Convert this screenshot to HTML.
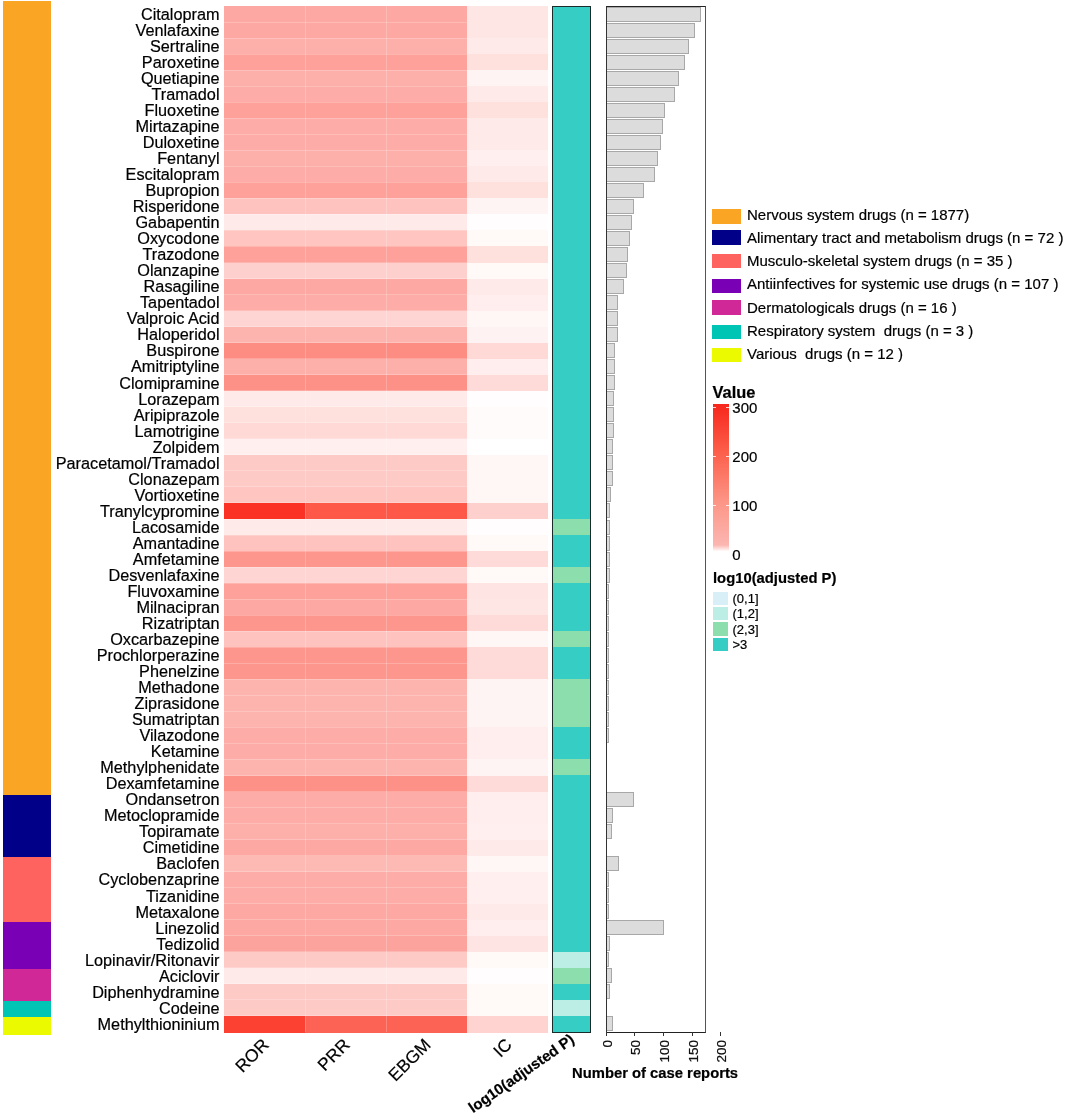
<!DOCTYPE html>
<html><head><meta charset="utf-8"><style>
html,body{margin:0;padding:0;background:#fff;width:1065px;height:1113px;overflow:hidden;position:relative}
body{font-family:"Liberation Sans",sans-serif;color:#000;will-change:transform;-webkit-text-stroke:0.2px #000}
div,span{position:absolute;box-sizing:border-box}
.lab{font-size:16.25px;right:0;white-space:nowrap;line-height:16px;text-align:right}
.cell{}
.lg{font-size:15px;white-space:nowrap;line-height:15px}
</style></head><body>

<div style="left:3px;top:1px;width:48px;height:794px;background:rgb(250,165,35)"></div>
<div style="left:3px;top:795px;width:48px;height:62px;background:rgb(0,0,136)"></div>
<div style="left:3px;top:857px;width:48px;height:65px;background:rgb(255,99,96)"></div>
<div style="left:3px;top:922px;width:48px;height:47px;background:rgb(122,0,181)"></div>
<div style="left:3px;top:969px;width:48px;height:32px;background:rgb(208,40,150)"></div>
<div style="left:3px;top:1001px;width:48px;height:16px;background:rgb(0,196,180)"></div>
<div style="left:3px;top:1017px;width:48px;height:18px;background:rgb(236,250,0)"></div>
<div style="left:0;top:0;width:219.5px;height:1113px">
<span class="lab" style="top:5.80px">Citalopram</span>
<span class="lab" style="top:21.83px">Venlafaxine</span>
<span class="lab" style="top:37.86px">Sertraline</span>
<span class="lab" style="top:53.89px">Paroxetine</span>
<span class="lab" style="top:69.92px">Quetiapine</span>
<span class="lab" style="top:85.96px">Tramadol</span>
<span class="lab" style="top:101.99px">Fluoxetine</span>
<span class="lab" style="top:118.02px">Mirtazapine</span>
<span class="lab" style="top:134.05px">Duloxetine</span>
<span class="lab" style="top:150.08px">Fentanyl</span>
<span class="lab" style="top:166.11px">Escitalopram</span>
<span class="lab" style="top:182.14px">Bupropion</span>
<span class="lab" style="top:198.18px">Risperidone</span>
<span class="lab" style="top:214.21px">Gabapentin</span>
<span class="lab" style="top:230.24px">Oxycodone</span>
<span class="lab" style="top:246.27px">Trazodone</span>
<span class="lab" style="top:262.30px">Olanzapine</span>
<span class="lab" style="top:278.33px">Rasagiline</span>
<span class="lab" style="top:294.36px">Tapentadol</span>
<span class="lab" style="top:310.39px">Valproic Acid</span>
<span class="lab" style="top:326.43px">Haloperidol</span>
<span class="lab" style="top:342.46px">Buspirone</span>
<span class="lab" style="top:358.49px">Amitriptyline</span>
<span class="lab" style="top:374.52px">Clomipramine</span>
<span class="lab" style="top:390.55px">Lorazepam</span>
<span class="lab" style="top:406.58px">Aripiprazole</span>
<span class="lab" style="top:422.61px">Lamotrigine</span>
<span class="lab" style="top:438.64px">Zolpidem</span>
<span class="lab" style="top:454.68px">Paracetamol/Tramadol</span>
<span class="lab" style="top:470.71px">Clonazepam</span>
<span class="lab" style="top:486.74px">Vortioxetine</span>
<span class="lab" style="top:502.77px">Tranylcypromine</span>
<span class="lab" style="top:518.80px">Lacosamide</span>
<span class="lab" style="top:534.83px">Amantadine</span>
<span class="lab" style="top:550.86px">Amfetamine</span>
<span class="lab" style="top:566.89px">Desvenlafaxine</span>
<span class="lab" style="top:582.92px">Fluvoxamine</span>
<span class="lab" style="top:598.96px">Milnacipran</span>
<span class="lab" style="top:614.99px">Rizatriptan</span>
<span class="lab" style="top:631.02px">Oxcarbazepine</span>
<span class="lab" style="top:647.05px">Prochlorperazine</span>
<span class="lab" style="top:663.08px">Phenelzine</span>
<span class="lab" style="top:679.11px">Methadone</span>
<span class="lab" style="top:695.14px">Ziprasidone</span>
<span class="lab" style="top:711.17px">Sumatriptan</span>
<span class="lab" style="top:727.21px">Vilazodone</span>
<span class="lab" style="top:743.24px">Ketamine</span>
<span class="lab" style="top:759.27px">Methylphenidate</span>
<span class="lab" style="top:775.30px">Dexamfetamine</span>
<span class="lab" style="top:791.33px">Ondansetron</span>
<span class="lab" style="top:807.36px">Metoclopramide</span>
<span class="lab" style="top:823.39px">Topiramate</span>
<span class="lab" style="top:839.42px">Cimetidine</span>
<span class="lab" style="top:855.46px">Baclofen</span>
<span class="lab" style="top:871.49px">Cyclobenzaprine</span>
<span class="lab" style="top:887.52px">Tizanidine</span>
<span class="lab" style="top:903.55px">Metaxalone</span>
<span class="lab" style="top:919.58px">Linezolid</span>
<span class="lab" style="top:935.61px">Tedizolid</span>
<span class="lab" style="top:951.64px">Lopinavir/Ritonavir</span>
<span class="lab" style="top:967.67px">Aciclovir</span>
<span class="lab" style="top:983.71px">Diphenhydramine</span>
<span class="lab" style="top:999.74px">Codeine</span>
<span class="lab" style="top:1015.77px">Methylthioninium</span>
</div>
<div style="left:224px;top:6.00px;width:81px;height:16.63px;background:rgb(253,168,162)"></div>
<div style="left:305px;top:6.00px;width:81px;height:16.63px;background:rgb(253,168,162)"></div>
<div style="left:386px;top:6.00px;width:81px;height:16.63px;background:rgb(253,168,162)"></div>
<div style="left:467px;top:6.00px;width:81px;height:16.63px;background:rgb(254,230,228)"></div>
<div style="left:224px;top:22.03px;width:81px;height:16.63px;background:rgb(253,168,162)"></div>
<div style="left:305px;top:22.03px;width:81px;height:16.63px;background:rgb(253,168,162)"></div>
<div style="left:386px;top:22.03px;width:81px;height:16.63px;background:rgb(253,168,162)"></div>
<div style="left:467px;top:22.03px;width:81px;height:16.63px;background:rgb(254,230,228)"></div>
<div style="left:224px;top:38.06px;width:81px;height:16.63px;background:rgb(253,175,169)"></div>
<div style="left:305px;top:38.06px;width:81px;height:16.63px;background:rgb(253,175,169)"></div>
<div style="left:386px;top:38.06px;width:81px;height:16.63px;background:rgb(253,175,169)"></div>
<div style="left:467px;top:38.06px;width:81px;height:16.63px;background:rgb(254,234,232)"></div>
<div style="left:224px;top:54.09px;width:81px;height:16.63px;background:rgb(253,161,154)"></div>
<div style="left:305px;top:54.09px;width:81px;height:16.63px;background:rgb(253,161,154)"></div>
<div style="left:386px;top:54.09px;width:81px;height:16.63px;background:rgb(253,161,154)"></div>
<div style="left:467px;top:54.09px;width:81px;height:16.63px;background:rgb(254,224,221)"></div>
<div style="left:224px;top:70.12px;width:81px;height:16.63px;background:rgb(253,175,169)"></div>
<div style="left:305px;top:70.12px;width:81px;height:16.63px;background:rgb(253,175,169)"></div>
<div style="left:386px;top:70.12px;width:81px;height:16.63px;background:rgb(253,175,169)"></div>
<div style="left:467px;top:70.12px;width:81px;height:16.63px;background:rgb(255,244,244)"></div>
<div style="left:224px;top:86.16px;width:81px;height:16.63px;background:rgb(253,172,167)"></div>
<div style="left:305px;top:86.16px;width:81px;height:16.63px;background:rgb(253,172,167)"></div>
<div style="left:386px;top:86.16px;width:81px;height:16.63px;background:rgb(253,172,167)"></div>
<div style="left:467px;top:86.16px;width:81px;height:16.63px;background:rgb(254,234,232)"></div>
<div style="left:224px;top:102.19px;width:81px;height:16.63px;background:rgb(253,161,154)"></div>
<div style="left:305px;top:102.19px;width:81px;height:16.63px;background:rgb(253,161,154)"></div>
<div style="left:386px;top:102.19px;width:81px;height:16.63px;background:rgb(253,161,154)"></div>
<div style="left:467px;top:102.19px;width:81px;height:16.63px;background:rgb(254,224,221)"></div>
<div style="left:224px;top:118.22px;width:81px;height:16.63px;background:rgb(253,172,167)"></div>
<div style="left:305px;top:118.22px;width:81px;height:16.63px;background:rgb(253,172,167)"></div>
<div style="left:386px;top:118.22px;width:81px;height:16.63px;background:rgb(253,172,167)"></div>
<div style="left:467px;top:118.22px;width:81px;height:16.63px;background:rgb(254,234,232)"></div>
<div style="left:224px;top:134.25px;width:81px;height:16.63px;background:rgb(253,172,167)"></div>
<div style="left:305px;top:134.25px;width:81px;height:16.63px;background:rgb(253,172,167)"></div>
<div style="left:386px;top:134.25px;width:81px;height:16.63px;background:rgb(253,172,167)"></div>
<div style="left:467px;top:134.25px;width:81px;height:16.63px;background:rgb(254,234,232)"></div>
<div style="left:224px;top:150.28px;width:81px;height:16.63px;background:rgb(253,175,169)"></div>
<div style="left:305px;top:150.28px;width:81px;height:16.63px;background:rgb(253,175,169)"></div>
<div style="left:386px;top:150.28px;width:81px;height:16.63px;background:rgb(253,175,169)"></div>
<div style="left:467px;top:150.28px;width:81px;height:16.63px;background:rgb(255,240,239)"></div>
<div style="left:224px;top:166.31px;width:81px;height:16.63px;background:rgb(253,172,167)"></div>
<div style="left:305px;top:166.31px;width:81px;height:16.63px;background:rgb(253,172,167)"></div>
<div style="left:386px;top:166.31px;width:81px;height:16.63px;background:rgb(253,172,167)"></div>
<div style="left:467px;top:166.31px;width:81px;height:16.63px;background:rgb(254,234,232)"></div>
<div style="left:224px;top:182.34px;width:81px;height:16.63px;background:rgb(253,161,154)"></div>
<div style="left:305px;top:182.34px;width:81px;height:16.63px;background:rgb(253,161,154)"></div>
<div style="left:386px;top:182.34px;width:81px;height:16.63px;background:rgb(253,161,154)"></div>
<div style="left:467px;top:182.34px;width:81px;height:16.63px;background:rgb(254,224,221)"></div>
<div style="left:224px;top:198.38px;width:81px;height:16.63px;background:rgb(254,195,191)"></div>
<div style="left:305px;top:198.38px;width:81px;height:16.63px;background:rgb(254,195,191)"></div>
<div style="left:386px;top:198.38px;width:81px;height:16.63px;background:rgb(254,195,191)"></div>
<div style="left:467px;top:198.38px;width:81px;height:16.63px;background:rgb(255,244,244)"></div>
<div style="left:224px;top:214.41px;width:81px;height:16.63px;background:rgb(254,234,232)"></div>
<div style="left:305px;top:214.41px;width:81px;height:16.63px;background:rgb(254,234,232)"></div>
<div style="left:386px;top:214.41px;width:81px;height:16.63px;background:rgb(254,234,232)"></div>
<div style="left:467px;top:214.41px;width:81px;height:16.63px;background:rgb(255,253,253)"></div>
<div style="left:224px;top:230.44px;width:81px;height:16.63px;background:rgb(254,197,193)"></div>
<div style="left:305px;top:230.44px;width:81px;height:16.63px;background:rgb(254,197,193)"></div>
<div style="left:386px;top:230.44px;width:81px;height:16.63px;background:rgb(254,197,193)"></div>
<div style="left:467px;top:230.44px;width:81px;height:16.63px;background:rgb(255,249,248)"></div>
<div style="left:224px;top:246.47px;width:81px;height:16.63px;background:rgb(253,161,154)"></div>
<div style="left:305px;top:246.47px;width:81px;height:16.63px;background:rgb(253,161,154)"></div>
<div style="left:386px;top:246.47px;width:81px;height:16.63px;background:rgb(253,161,154)"></div>
<div style="left:467px;top:246.47px;width:81px;height:16.63px;background:rgb(254,224,221)"></div>
<div style="left:224px;top:262.50px;width:81px;height:16.63px;background:rgb(254,208,205)"></div>
<div style="left:305px;top:262.50px;width:81px;height:16.63px;background:rgb(254,208,205)"></div>
<div style="left:386px;top:262.50px;width:81px;height:16.63px;background:rgb(254,208,205)"></div>
<div style="left:467px;top:262.50px;width:81px;height:16.63px;background:rgb(255,249,248)"></div>
<div style="left:224px;top:278.53px;width:81px;height:16.63px;background:rgb(253,168,162)"></div>
<div style="left:305px;top:278.53px;width:81px;height:16.63px;background:rgb(253,168,162)"></div>
<div style="left:386px;top:278.53px;width:81px;height:16.63px;background:rgb(253,168,162)"></div>
<div style="left:467px;top:278.53px;width:81px;height:16.63px;background:rgb(254,234,232)"></div>
<div style="left:224px;top:294.56px;width:81px;height:16.63px;background:rgb(253,172,167)"></div>
<div style="left:305px;top:294.56px;width:81px;height:16.63px;background:rgb(253,172,167)"></div>
<div style="left:386px;top:294.56px;width:81px;height:16.63px;background:rgb(253,172,167)"></div>
<div style="left:467px;top:294.56px;width:81px;height:16.63px;background:rgb(255,238,237)"></div>
<div style="left:224px;top:310.59px;width:81px;height:16.63px;background:rgb(254,213,210)"></div>
<div style="left:305px;top:310.59px;width:81px;height:16.63px;background:rgb(254,213,210)"></div>
<div style="left:386px;top:310.59px;width:81px;height:16.63px;background:rgb(254,213,210)"></div>
<div style="left:467px;top:310.59px;width:81px;height:16.63px;background:rgb(255,247,246)"></div>
<div style="left:224px;top:326.62px;width:81px;height:16.63px;background:rgb(253,179,174)"></div>
<div style="left:305px;top:326.62px;width:81px;height:16.63px;background:rgb(253,179,174)"></div>
<div style="left:386px;top:326.62px;width:81px;height:16.63px;background:rgb(253,179,174)"></div>
<div style="left:467px;top:326.62px;width:81px;height:16.63px;background:rgb(255,242,242)"></div>
<div style="left:224px;top:342.66px;width:81px;height:16.63px;background:rgb(253,140,130)"></div>
<div style="left:305px;top:342.66px;width:81px;height:16.63px;background:rgb(253,140,130)"></div>
<div style="left:386px;top:342.66px;width:81px;height:16.63px;background:rgb(253,140,130)"></div>
<div style="left:467px;top:342.66px;width:81px;height:16.63px;background:rgb(254,217,214)"></div>
<div style="left:224px;top:358.69px;width:81px;height:16.63px;background:rgb(253,175,169)"></div>
<div style="left:305px;top:358.69px;width:81px;height:16.63px;background:rgb(253,175,169)"></div>
<div style="left:386px;top:358.69px;width:81px;height:16.63px;background:rgb(253,175,169)"></div>
<div style="left:467px;top:358.69px;width:81px;height:16.63px;background:rgb(255,238,237)"></div>
<div style="left:224px;top:374.72px;width:81px;height:16.63px;background:rgb(253,145,135)"></div>
<div style="left:305px;top:374.72px;width:81px;height:16.63px;background:rgb(253,145,135)"></div>
<div style="left:386px;top:374.72px;width:81px;height:16.63px;background:rgb(253,145,135)"></div>
<div style="left:467px;top:374.72px;width:81px;height:16.63px;background:rgb(254,219,217)"></div>
<div style="left:224px;top:390.75px;width:81px;height:16.63px;background:rgb(254,234,232)"></div>
<div style="left:305px;top:390.75px;width:81px;height:16.63px;background:rgb(254,234,232)"></div>
<div style="left:386px;top:390.75px;width:81px;height:16.63px;background:rgb(254,234,232)"></div>
<div style="left:467px;top:390.75px;width:81px;height:16.63px;background:rgb(255,253,253)"></div>
<div style="left:224px;top:406.78px;width:81px;height:16.63px;background:rgb(254,224,221)"></div>
<div style="left:305px;top:406.78px;width:81px;height:16.63px;background:rgb(254,224,221)"></div>
<div style="left:386px;top:406.78px;width:81px;height:16.63px;background:rgb(254,224,221)"></div>
<div style="left:467px;top:406.78px;width:81px;height:16.63px;background:rgb(255,251,250)"></div>
<div style="left:224px;top:422.81px;width:81px;height:16.63px;background:rgb(254,217,214)"></div>
<div style="left:305px;top:422.81px;width:81px;height:16.63px;background:rgb(254,217,214)"></div>
<div style="left:386px;top:422.81px;width:81px;height:16.63px;background:rgb(254,217,214)"></div>
<div style="left:467px;top:422.81px;width:81px;height:16.63px;background:rgb(255,251,250)"></div>
<div style="left:224px;top:438.84px;width:81px;height:16.63px;background:rgb(255,240,239)"></div>
<div style="left:305px;top:438.84px;width:81px;height:16.63px;background:rgb(255,240,239)"></div>
<div style="left:386px;top:438.84px;width:81px;height:16.63px;background:rgb(255,240,239)"></div>
<div style="left:467px;top:438.84px;width:81px;height:16.63px;background:rgb(255,255,255)"></div>
<div style="left:224px;top:454.88px;width:81px;height:16.63px;background:rgb(254,202,198)"></div>
<div style="left:305px;top:454.88px;width:81px;height:16.63px;background:rgb(254,202,198)"></div>
<div style="left:386px;top:454.88px;width:81px;height:16.63px;background:rgb(254,202,198)"></div>
<div style="left:467px;top:454.88px;width:81px;height:16.63px;background:rgb(255,247,246)"></div>
<div style="left:224px;top:470.91px;width:81px;height:16.63px;background:rgb(254,202,198)"></div>
<div style="left:305px;top:470.91px;width:81px;height:16.63px;background:rgb(254,202,198)"></div>
<div style="left:386px;top:470.91px;width:81px;height:16.63px;background:rgb(254,202,198)"></div>
<div style="left:467px;top:470.91px;width:81px;height:16.63px;background:rgb(255,247,246)"></div>
<div style="left:224px;top:486.94px;width:81px;height:16.63px;background:rgb(254,197,193)"></div>
<div style="left:305px;top:486.94px;width:81px;height:16.63px;background:rgb(254,197,193)"></div>
<div style="left:386px;top:486.94px;width:81px;height:16.63px;background:rgb(254,197,193)"></div>
<div style="left:467px;top:486.94px;width:81px;height:16.63px;background:rgb(255,247,246)"></div>
<div style="left:224px;top:502.97px;width:81px;height:16.63px;background:rgb(250,49,36)"></div>
<div style="left:305px;top:502.97px;width:81px;height:16.63px;background:rgb(253,88,72)"></div>
<div style="left:386px;top:502.97px;width:81px;height:16.63px;background:rgb(253,88,72)"></div>
<div style="left:467px;top:502.97px;width:81px;height:16.63px;background:rgb(254,208,205)"></div>
<div style="left:224px;top:519.00px;width:81px;height:16.63px;background:rgb(254,234,232)"></div>
<div style="left:305px;top:519.00px;width:81px;height:16.63px;background:rgb(254,234,232)"></div>
<div style="left:386px;top:519.00px;width:81px;height:16.63px;background:rgb(254,234,232)"></div>
<div style="left:467px;top:519.00px;width:81px;height:16.63px;background:rgb(255,253,253)"></div>
<div style="left:224px;top:535.03px;width:81px;height:16.63px;background:rgb(254,195,191)"></div>
<div style="left:305px;top:535.03px;width:81px;height:16.63px;background:rgb(254,195,191)"></div>
<div style="left:386px;top:535.03px;width:81px;height:16.63px;background:rgb(254,195,191)"></div>
<div style="left:467px;top:535.03px;width:81px;height:16.63px;background:rgb(255,249,248)"></div>
<div style="left:224px;top:551.06px;width:81px;height:16.63px;background:rgb(253,150,140)"></div>
<div style="left:305px;top:551.06px;width:81px;height:16.63px;background:rgb(253,150,140)"></div>
<div style="left:386px;top:551.06px;width:81px;height:16.63px;background:rgb(253,150,140)"></div>
<div style="left:467px;top:551.06px;width:81px;height:16.63px;background:rgb(254,219,217)"></div>
<div style="left:224px;top:567.09px;width:81px;height:16.63px;background:rgb(254,213,210)"></div>
<div style="left:305px;top:567.09px;width:81px;height:16.63px;background:rgb(254,213,210)"></div>
<div style="left:386px;top:567.09px;width:81px;height:16.63px;background:rgb(254,213,210)"></div>
<div style="left:467px;top:567.09px;width:81px;height:16.63px;background:rgb(255,249,248)"></div>
<div style="left:224px;top:583.12px;width:81px;height:16.63px;background:rgb(253,161,154)"></div>
<div style="left:305px;top:583.12px;width:81px;height:16.63px;background:rgb(253,161,154)"></div>
<div style="left:386px;top:583.12px;width:81px;height:16.63px;background:rgb(253,161,154)"></div>
<div style="left:467px;top:583.12px;width:81px;height:16.63px;background:rgb(254,228,226)"></div>
<div style="left:224px;top:599.16px;width:81px;height:16.63px;background:rgb(253,168,162)"></div>
<div style="left:305px;top:599.16px;width:81px;height:16.63px;background:rgb(253,168,162)"></div>
<div style="left:386px;top:599.16px;width:81px;height:16.63px;background:rgb(253,168,162)"></div>
<div style="left:467px;top:599.16px;width:81px;height:16.63px;background:rgb(254,230,228)"></div>
<div style="left:224px;top:615.19px;width:81px;height:16.63px;background:rgb(253,150,140)"></div>
<div style="left:305px;top:615.19px;width:81px;height:16.63px;background:rgb(253,150,140)"></div>
<div style="left:386px;top:615.19px;width:81px;height:16.63px;background:rgb(253,150,140)"></div>
<div style="left:467px;top:615.19px;width:81px;height:16.63px;background:rgb(254,219,217)"></div>
<div style="left:224px;top:631.22px;width:81px;height:16.63px;background:rgb(254,195,191)"></div>
<div style="left:305px;top:631.22px;width:81px;height:16.63px;background:rgb(254,195,191)"></div>
<div style="left:386px;top:631.22px;width:81px;height:16.63px;background:rgb(254,195,191)"></div>
<div style="left:467px;top:631.22px;width:81px;height:16.63px;background:rgb(255,247,246)"></div>
<div style="left:224px;top:647.25px;width:81px;height:16.63px;background:rgb(253,150,140)"></div>
<div style="left:305px;top:647.25px;width:81px;height:16.63px;background:rgb(253,150,140)"></div>
<div style="left:386px;top:647.25px;width:81px;height:16.63px;background:rgb(253,150,140)"></div>
<div style="left:467px;top:647.25px;width:81px;height:16.63px;background:rgb(254,219,217)"></div>
<div style="left:224px;top:663.28px;width:81px;height:16.63px;background:rgb(253,150,140)"></div>
<div style="left:305px;top:663.28px;width:81px;height:16.63px;background:rgb(253,150,140)"></div>
<div style="left:386px;top:663.28px;width:81px;height:16.63px;background:rgb(253,150,140)"></div>
<div style="left:467px;top:663.28px;width:81px;height:16.63px;background:rgb(254,219,217)"></div>
<div style="left:224px;top:679.31px;width:81px;height:16.63px;background:rgb(253,179,174)"></div>
<div style="left:305px;top:679.31px;width:81px;height:16.63px;background:rgb(253,179,174)"></div>
<div style="left:386px;top:679.31px;width:81px;height:16.63px;background:rgb(253,179,174)"></div>
<div style="left:467px;top:679.31px;width:81px;height:16.63px;background:rgb(255,244,244)"></div>
<div style="left:224px;top:695.34px;width:81px;height:16.63px;background:rgb(253,179,174)"></div>
<div style="left:305px;top:695.34px;width:81px;height:16.63px;background:rgb(253,179,174)"></div>
<div style="left:386px;top:695.34px;width:81px;height:16.63px;background:rgb(253,179,174)"></div>
<div style="left:467px;top:695.34px;width:81px;height:16.63px;background:rgb(255,244,244)"></div>
<div style="left:224px;top:711.38px;width:81px;height:16.63px;background:rgb(253,179,174)"></div>
<div style="left:305px;top:711.38px;width:81px;height:16.63px;background:rgb(253,179,174)"></div>
<div style="left:386px;top:711.38px;width:81px;height:16.63px;background:rgb(253,179,174)"></div>
<div style="left:467px;top:711.38px;width:81px;height:16.63px;background:rgb(255,244,244)"></div>
<div style="left:224px;top:727.41px;width:81px;height:16.63px;background:rgb(253,172,167)"></div>
<div style="left:305px;top:727.41px;width:81px;height:16.63px;background:rgb(253,172,167)"></div>
<div style="left:386px;top:727.41px;width:81px;height:16.63px;background:rgb(253,172,167)"></div>
<div style="left:467px;top:727.41px;width:81px;height:16.63px;background:rgb(255,238,237)"></div>
<div style="left:224px;top:743.44px;width:81px;height:16.63px;background:rgb(253,172,167)"></div>
<div style="left:305px;top:743.44px;width:81px;height:16.63px;background:rgb(253,172,167)"></div>
<div style="left:386px;top:743.44px;width:81px;height:16.63px;background:rgb(253,172,167)"></div>
<div style="left:467px;top:743.44px;width:81px;height:16.63px;background:rgb(255,238,237)"></div>
<div style="left:224px;top:759.47px;width:81px;height:16.63px;background:rgb(253,179,174)"></div>
<div style="left:305px;top:759.47px;width:81px;height:16.63px;background:rgb(253,179,174)"></div>
<div style="left:386px;top:759.47px;width:81px;height:16.63px;background:rgb(253,179,174)"></div>
<div style="left:467px;top:759.47px;width:81px;height:16.63px;background:rgb(255,244,244)"></div>
<div style="left:224px;top:775.50px;width:81px;height:16.63px;background:rgb(253,145,135)"></div>
<div style="left:305px;top:775.50px;width:81px;height:16.63px;background:rgb(253,145,135)"></div>
<div style="left:386px;top:775.50px;width:81px;height:16.63px;background:rgb(253,145,135)"></div>
<div style="left:467px;top:775.50px;width:81px;height:16.63px;background:rgb(254,219,217)"></div>
<div style="left:224px;top:791.53px;width:81px;height:16.63px;background:rgb(253,172,167)"></div>
<div style="left:305px;top:791.53px;width:81px;height:16.63px;background:rgb(253,172,167)"></div>
<div style="left:386px;top:791.53px;width:81px;height:16.63px;background:rgb(253,172,167)"></div>
<div style="left:467px;top:791.53px;width:81px;height:16.63px;background:rgb(255,238,237)"></div>
<div style="left:224px;top:807.56px;width:81px;height:16.63px;background:rgb(253,172,167)"></div>
<div style="left:305px;top:807.56px;width:81px;height:16.63px;background:rgb(253,172,167)"></div>
<div style="left:386px;top:807.56px;width:81px;height:16.63px;background:rgb(253,172,167)"></div>
<div style="left:467px;top:807.56px;width:81px;height:16.63px;background:rgb(255,238,237)"></div>
<div style="left:224px;top:823.59px;width:81px;height:16.63px;background:rgb(253,175,169)"></div>
<div style="left:305px;top:823.59px;width:81px;height:16.63px;background:rgb(253,175,169)"></div>
<div style="left:386px;top:823.59px;width:81px;height:16.63px;background:rgb(253,175,169)"></div>
<div style="left:467px;top:823.59px;width:81px;height:16.63px;background:rgb(255,240,239)"></div>
<div style="left:224px;top:839.62px;width:81px;height:16.63px;background:rgb(253,168,162)"></div>
<div style="left:305px;top:839.62px;width:81px;height:16.63px;background:rgb(253,168,162)"></div>
<div style="left:386px;top:839.62px;width:81px;height:16.63px;background:rgb(253,168,162)"></div>
<div style="left:467px;top:839.62px;width:81px;height:16.63px;background:rgb(254,234,232)"></div>
<div style="left:224px;top:855.66px;width:81px;height:16.63px;background:rgb(253,186,181)"></div>
<div style="left:305px;top:855.66px;width:81px;height:16.63px;background:rgb(253,186,181)"></div>
<div style="left:386px;top:855.66px;width:81px;height:16.63px;background:rgb(253,186,181)"></div>
<div style="left:467px;top:855.66px;width:81px;height:16.63px;background:rgb(255,247,246)"></div>
<div style="left:224px;top:871.69px;width:81px;height:16.63px;background:rgb(253,172,167)"></div>
<div style="left:305px;top:871.69px;width:81px;height:16.63px;background:rgb(253,172,167)"></div>
<div style="left:386px;top:871.69px;width:81px;height:16.63px;background:rgb(253,172,167)"></div>
<div style="left:467px;top:871.69px;width:81px;height:16.63px;background:rgb(255,240,239)"></div>
<div style="left:224px;top:887.72px;width:81px;height:16.63px;background:rgb(253,172,167)"></div>
<div style="left:305px;top:887.72px;width:81px;height:16.63px;background:rgb(253,172,167)"></div>
<div style="left:386px;top:887.72px;width:81px;height:16.63px;background:rgb(253,172,167)"></div>
<div style="left:467px;top:887.72px;width:81px;height:16.63px;background:rgb(255,240,239)"></div>
<div style="left:224px;top:903.75px;width:81px;height:16.63px;background:rgb(253,168,162)"></div>
<div style="left:305px;top:903.75px;width:81px;height:16.63px;background:rgb(253,168,162)"></div>
<div style="left:386px;top:903.75px;width:81px;height:16.63px;background:rgb(253,168,162)"></div>
<div style="left:467px;top:903.75px;width:81px;height:16.63px;background:rgb(254,234,232)"></div>
<div style="left:224px;top:919.78px;width:81px;height:16.63px;background:rgb(253,168,162)"></div>
<div style="left:305px;top:919.78px;width:81px;height:16.63px;background:rgb(253,168,162)"></div>
<div style="left:386px;top:919.78px;width:81px;height:16.63px;background:rgb(253,168,162)"></div>
<div style="left:467px;top:919.78px;width:81px;height:16.63px;background:rgb(255,238,237)"></div>
<div style="left:224px;top:935.81px;width:81px;height:16.63px;background:rgb(253,163,157)"></div>
<div style="left:305px;top:935.81px;width:81px;height:16.63px;background:rgb(253,163,157)"></div>
<div style="left:386px;top:935.81px;width:81px;height:16.63px;background:rgb(253,163,157)"></div>
<div style="left:467px;top:935.81px;width:81px;height:16.63px;background:rgb(254,228,226)"></div>
<div style="left:224px;top:951.84px;width:81px;height:16.63px;background:rgb(254,202,198)"></div>
<div style="left:305px;top:951.84px;width:81px;height:16.63px;background:rgb(254,202,198)"></div>
<div style="left:386px;top:951.84px;width:81px;height:16.63px;background:rgb(254,202,198)"></div>
<div style="left:467px;top:951.84px;width:81px;height:16.63px;background:rgb(255,249,248)"></div>
<div style="left:224px;top:967.88px;width:81px;height:16.63px;background:rgb(254,234,232)"></div>
<div style="left:305px;top:967.88px;width:81px;height:16.63px;background:rgb(254,234,232)"></div>
<div style="left:386px;top:967.88px;width:81px;height:16.63px;background:rgb(254,234,232)"></div>
<div style="left:467px;top:967.88px;width:81px;height:16.63px;background:rgb(255,253,253)"></div>
<div style="left:224px;top:983.91px;width:81px;height:16.63px;background:rgb(254,202,198)"></div>
<div style="left:305px;top:983.91px;width:81px;height:16.63px;background:rgb(254,202,198)"></div>
<div style="left:386px;top:983.91px;width:81px;height:16.63px;background:rgb(254,202,198)"></div>
<div style="left:467px;top:983.91px;width:81px;height:16.63px;background:rgb(255,249,248)"></div>
<div style="left:224px;top:999.94px;width:81px;height:16.63px;background:rgb(254,202,198)"></div>
<div style="left:305px;top:999.94px;width:81px;height:16.63px;background:rgb(254,202,198)"></div>
<div style="left:386px;top:999.94px;width:81px;height:16.63px;background:rgb(254,202,198)"></div>
<div style="left:467px;top:999.94px;width:81px;height:16.63px;background:rgb(255,249,248)"></div>
<div style="left:224px;top:1015.97px;width:81px;height:16.63px;background:rgb(252,65,51)"></div>
<div style="left:305px;top:1015.97px;width:81px;height:16.63px;background:rgb(253,99,85)"></div>
<div style="left:386px;top:1015.97px;width:81px;height:16.63px;background:rgb(253,99,85)"></div>
<div style="left:467px;top:1015.97px;width:81px;height:16.63px;background:rgb(254,211,208)"></div>
<div style="left:224px;top:21.53px;width:243px;height:1px;background:rgba(255,255,255,0.22)"></div>
<div style="left:224px;top:37.56px;width:243px;height:1px;background:rgba(255,255,255,0.22)"></div>
<div style="left:224px;top:53.59px;width:243px;height:1px;background:rgba(255,255,255,0.22)"></div>
<div style="left:224px;top:69.62px;width:243px;height:1px;background:rgba(255,255,255,0.22)"></div>
<div style="left:224px;top:85.66px;width:243px;height:1px;background:rgba(255,255,255,0.22)"></div>
<div style="left:224px;top:101.69px;width:243px;height:1px;background:rgba(255,255,255,0.22)"></div>
<div style="left:224px;top:117.72px;width:243px;height:1px;background:rgba(255,255,255,0.22)"></div>
<div style="left:224px;top:133.75px;width:243px;height:1px;background:rgba(255,255,255,0.22)"></div>
<div style="left:224px;top:149.78px;width:243px;height:1px;background:rgba(255,255,255,0.22)"></div>
<div style="left:224px;top:165.81px;width:243px;height:1px;background:rgba(255,255,255,0.22)"></div>
<div style="left:224px;top:181.84px;width:243px;height:1px;background:rgba(255,255,255,0.22)"></div>
<div style="left:224px;top:197.88px;width:243px;height:1px;background:rgba(255,255,255,0.22)"></div>
<div style="left:224px;top:213.91px;width:243px;height:1px;background:rgba(255,255,255,0.22)"></div>
<div style="left:224px;top:229.94px;width:243px;height:1px;background:rgba(255,255,255,0.22)"></div>
<div style="left:224px;top:245.97px;width:243px;height:1px;background:rgba(255,255,255,0.22)"></div>
<div style="left:224px;top:262.00px;width:243px;height:1px;background:rgba(255,255,255,0.22)"></div>
<div style="left:224px;top:278.03px;width:243px;height:1px;background:rgba(255,255,255,0.22)"></div>
<div style="left:224px;top:294.06px;width:243px;height:1px;background:rgba(255,255,255,0.22)"></div>
<div style="left:224px;top:310.09px;width:243px;height:1px;background:rgba(255,255,255,0.22)"></div>
<div style="left:224px;top:326.12px;width:243px;height:1px;background:rgba(255,255,255,0.22)"></div>
<div style="left:224px;top:342.16px;width:243px;height:1px;background:rgba(255,255,255,0.22)"></div>
<div style="left:224px;top:358.19px;width:243px;height:1px;background:rgba(255,255,255,0.22)"></div>
<div style="left:224px;top:374.22px;width:243px;height:1px;background:rgba(255,255,255,0.22)"></div>
<div style="left:224px;top:390.25px;width:243px;height:1px;background:rgba(255,255,255,0.22)"></div>
<div style="left:224px;top:406.28px;width:243px;height:1px;background:rgba(255,255,255,0.22)"></div>
<div style="left:224px;top:422.31px;width:243px;height:1px;background:rgba(255,255,255,0.22)"></div>
<div style="left:224px;top:438.34px;width:243px;height:1px;background:rgba(255,255,255,0.22)"></div>
<div style="left:224px;top:454.38px;width:243px;height:1px;background:rgba(255,255,255,0.22)"></div>
<div style="left:224px;top:470.41px;width:243px;height:1px;background:rgba(255,255,255,0.22)"></div>
<div style="left:224px;top:486.44px;width:243px;height:1px;background:rgba(255,255,255,0.22)"></div>
<div style="left:224px;top:502.47px;width:243px;height:1px;background:rgba(255,255,255,0.22)"></div>
<div style="left:224px;top:518.50px;width:243px;height:1px;background:rgba(255,255,255,0.22)"></div>
<div style="left:224px;top:534.53px;width:243px;height:1px;background:rgba(255,255,255,0.22)"></div>
<div style="left:224px;top:550.56px;width:243px;height:1px;background:rgba(255,255,255,0.22)"></div>
<div style="left:224px;top:566.59px;width:243px;height:1px;background:rgba(255,255,255,0.22)"></div>
<div style="left:224px;top:582.62px;width:243px;height:1px;background:rgba(255,255,255,0.22)"></div>
<div style="left:224px;top:598.66px;width:243px;height:1px;background:rgba(255,255,255,0.22)"></div>
<div style="left:224px;top:614.69px;width:243px;height:1px;background:rgba(255,255,255,0.22)"></div>
<div style="left:224px;top:630.72px;width:243px;height:1px;background:rgba(255,255,255,0.22)"></div>
<div style="left:224px;top:646.75px;width:243px;height:1px;background:rgba(255,255,255,0.22)"></div>
<div style="left:224px;top:662.78px;width:243px;height:1px;background:rgba(255,255,255,0.22)"></div>
<div style="left:224px;top:678.81px;width:243px;height:1px;background:rgba(255,255,255,0.22)"></div>
<div style="left:224px;top:694.84px;width:243px;height:1px;background:rgba(255,255,255,0.22)"></div>
<div style="left:224px;top:710.88px;width:243px;height:1px;background:rgba(255,255,255,0.22)"></div>
<div style="left:224px;top:726.91px;width:243px;height:1px;background:rgba(255,255,255,0.22)"></div>
<div style="left:224px;top:742.94px;width:243px;height:1px;background:rgba(255,255,255,0.22)"></div>
<div style="left:224px;top:758.97px;width:243px;height:1px;background:rgba(255,255,255,0.22)"></div>
<div style="left:224px;top:775.00px;width:243px;height:1px;background:rgba(255,255,255,0.22)"></div>
<div style="left:224px;top:791.03px;width:243px;height:1px;background:rgba(255,255,255,0.22)"></div>
<div style="left:224px;top:807.06px;width:243px;height:1px;background:rgba(255,255,255,0.22)"></div>
<div style="left:224px;top:823.09px;width:243px;height:1px;background:rgba(255,255,255,0.22)"></div>
<div style="left:224px;top:839.12px;width:243px;height:1px;background:rgba(255,255,255,0.22)"></div>
<div style="left:224px;top:855.16px;width:243px;height:1px;background:rgba(255,255,255,0.22)"></div>
<div style="left:224px;top:871.19px;width:243px;height:1px;background:rgba(255,255,255,0.22)"></div>
<div style="left:224px;top:887.22px;width:243px;height:1px;background:rgba(255,255,255,0.22)"></div>
<div style="left:224px;top:903.25px;width:243px;height:1px;background:rgba(255,255,255,0.22)"></div>
<div style="left:224px;top:919.28px;width:243px;height:1px;background:rgba(255,255,255,0.22)"></div>
<div style="left:224px;top:935.31px;width:243px;height:1px;background:rgba(255,255,255,0.22)"></div>
<div style="left:224px;top:951.34px;width:243px;height:1px;background:rgba(255,255,255,0.22)"></div>
<div style="left:224px;top:967.38px;width:243px;height:1px;background:rgba(255,255,255,0.22)"></div>
<div style="left:224px;top:983.41px;width:243px;height:1px;background:rgba(255,255,255,0.22)"></div>
<div style="left:224px;top:999.44px;width:243px;height:1px;background:rgba(255,255,255,0.22)"></div>
<div style="left:224px;top:1015.47px;width:243px;height:1px;background:rgba(255,255,255,0.22)"></div>
<div style="left:304.5px;top:6px;width:1px;height:1026px;background:rgba(255,255,255,0.22)"></div>
<div style="left:385.5px;top:6px;width:1px;height:1026px;background:rgba(255,255,255,0.22)"></div>
<div style="left:552px;top:6px;width:39px;height:1027px;border:1.3px solid #1a2b2b;overflow:hidden;background:#fff">
<div style="left:-1.3px;top:-1.30px;width:40px;height:16.08px;background:rgb(54,205,196)"></div>
<div style="left:-1.3px;top:14.73px;width:40px;height:16.08px;background:rgb(54,205,196)"></div>
<div style="left:-1.3px;top:30.76px;width:40px;height:16.08px;background:rgb(54,205,196)"></div>
<div style="left:-1.3px;top:46.79px;width:40px;height:16.08px;background:rgb(54,205,196)"></div>
<div style="left:-1.3px;top:62.83px;width:40px;height:16.08px;background:rgb(54,205,196)"></div>
<div style="left:-1.3px;top:78.86px;width:40px;height:16.08px;background:rgb(54,205,196)"></div>
<div style="left:-1.3px;top:94.89px;width:40px;height:16.08px;background:rgb(54,205,196)"></div>
<div style="left:-1.3px;top:110.92px;width:40px;height:16.08px;background:rgb(54,205,196)"></div>
<div style="left:-1.3px;top:126.95px;width:40px;height:16.08px;background:rgb(54,205,196)"></div>
<div style="left:-1.3px;top:142.98px;width:40px;height:16.08px;background:rgb(54,205,196)"></div>
<div style="left:-1.3px;top:159.01px;width:40px;height:16.08px;background:rgb(54,205,196)"></div>
<div style="left:-1.3px;top:175.04px;width:40px;height:16.08px;background:rgb(54,205,196)"></div>
<div style="left:-1.3px;top:191.07px;width:40px;height:16.08px;background:rgb(54,205,196)"></div>
<div style="left:-1.3px;top:207.11px;width:40px;height:16.08px;background:rgb(54,205,196)"></div>
<div style="left:-1.3px;top:223.14px;width:40px;height:16.08px;background:rgb(54,205,196)"></div>
<div style="left:-1.3px;top:239.17px;width:40px;height:16.08px;background:rgb(54,205,196)"></div>
<div style="left:-1.3px;top:255.20px;width:40px;height:16.08px;background:rgb(54,205,196)"></div>
<div style="left:-1.3px;top:271.23px;width:40px;height:16.08px;background:rgb(54,205,196)"></div>
<div style="left:-1.3px;top:287.26px;width:40px;height:16.08px;background:rgb(54,205,196)"></div>
<div style="left:-1.3px;top:303.29px;width:40px;height:16.08px;background:rgb(54,205,196)"></div>
<div style="left:-1.3px;top:319.32px;width:40px;height:16.08px;background:rgb(54,205,196)"></div>
<div style="left:-1.3px;top:335.36px;width:40px;height:16.08px;background:rgb(54,205,196)"></div>
<div style="left:-1.3px;top:351.39px;width:40px;height:16.08px;background:rgb(54,205,196)"></div>
<div style="left:-1.3px;top:367.42px;width:40px;height:16.08px;background:rgb(54,205,196)"></div>
<div style="left:-1.3px;top:383.45px;width:40px;height:16.08px;background:rgb(54,205,196)"></div>
<div style="left:-1.3px;top:399.48px;width:40px;height:16.08px;background:rgb(54,205,196)"></div>
<div style="left:-1.3px;top:415.51px;width:40px;height:16.08px;background:rgb(54,205,196)"></div>
<div style="left:-1.3px;top:431.54px;width:40px;height:16.08px;background:rgb(54,205,196)"></div>
<div style="left:-1.3px;top:447.57px;width:40px;height:16.08px;background:rgb(54,205,196)"></div>
<div style="left:-1.3px;top:463.61px;width:40px;height:16.08px;background:rgb(54,205,196)"></div>
<div style="left:-1.3px;top:479.64px;width:40px;height:16.08px;background:rgb(54,205,196)"></div>
<div style="left:-1.3px;top:495.67px;width:40px;height:16.08px;background:rgb(54,205,196)"></div>
<div style="left:-1.3px;top:511.70px;width:40px;height:16.08px;background:rgb(140,222,172)"></div>
<div style="left:-1.3px;top:527.73px;width:40px;height:16.08px;background:rgb(54,205,196)"></div>
<div style="left:-1.3px;top:543.76px;width:40px;height:16.08px;background:rgb(54,205,196)"></div>
<div style="left:-1.3px;top:559.79px;width:40px;height:16.08px;background:rgb(140,222,172)"></div>
<div style="left:-1.3px;top:575.83px;width:40px;height:16.08px;background:rgb(54,205,196)"></div>
<div style="left:-1.3px;top:591.86px;width:40px;height:16.08px;background:rgb(54,205,196)"></div>
<div style="left:-1.3px;top:607.89px;width:40px;height:16.08px;background:rgb(54,205,196)"></div>
<div style="left:-1.3px;top:623.92px;width:40px;height:16.08px;background:rgb(140,222,172)"></div>
<div style="left:-1.3px;top:639.95px;width:40px;height:16.08px;background:rgb(54,205,196)"></div>
<div style="left:-1.3px;top:655.98px;width:40px;height:16.08px;background:rgb(54,205,196)"></div>
<div style="left:-1.3px;top:672.01px;width:40px;height:16.08px;background:rgb(140,222,172)"></div>
<div style="left:-1.3px;top:688.04px;width:40px;height:16.08px;background:rgb(140,222,172)"></div>
<div style="left:-1.3px;top:704.08px;width:40px;height:16.08px;background:rgb(140,222,172)"></div>
<div style="left:-1.3px;top:720.11px;width:40px;height:16.08px;background:rgb(54,205,196)"></div>
<div style="left:-1.3px;top:736.14px;width:40px;height:16.08px;background:rgb(54,205,196)"></div>
<div style="left:-1.3px;top:752.17px;width:40px;height:16.08px;background:rgb(140,222,172)"></div>
<div style="left:-1.3px;top:768.20px;width:40px;height:16.08px;background:rgb(54,205,196)"></div>
<div style="left:-1.3px;top:784.23px;width:40px;height:16.08px;background:rgb(54,205,196)"></div>
<div style="left:-1.3px;top:800.26px;width:40px;height:16.08px;background:rgb(54,205,196)"></div>
<div style="left:-1.3px;top:816.29px;width:40px;height:16.08px;background:rgb(54,205,196)"></div>
<div style="left:-1.3px;top:832.33px;width:40px;height:16.08px;background:rgb(54,205,196)"></div>
<div style="left:-1.3px;top:848.36px;width:40px;height:16.08px;background:rgb(54,205,196)"></div>
<div style="left:-1.3px;top:864.39px;width:40px;height:16.08px;background:rgb(54,205,196)"></div>
<div style="left:-1.3px;top:880.42px;width:40px;height:16.08px;background:rgb(54,205,196)"></div>
<div style="left:-1.3px;top:896.45px;width:40px;height:16.08px;background:rgb(54,205,196)"></div>
<div style="left:-1.3px;top:912.48px;width:40px;height:16.08px;background:rgb(54,205,196)"></div>
<div style="left:-1.3px;top:928.51px;width:40px;height:16.08px;background:rgb(54,205,196)"></div>
<div style="left:-1.3px;top:944.54px;width:40px;height:16.08px;background:rgb(188,238,230)"></div>
<div style="left:-1.3px;top:960.58px;width:40px;height:16.08px;background:rgb(140,222,172)"></div>
<div style="left:-1.3px;top:976.61px;width:40px;height:16.08px;background:rgb(54,205,196)"></div>
<div style="left:-1.3px;top:992.64px;width:40px;height:16.08px;background:rgb(188,238,230)"></div>
<div style="left:-1.3px;top:1008.67px;width:40px;height:16.08px;background:rgb(54,205,196)"></div>
</div>
<div style="left:606px;top:6px;width:100px;height:1027px;border-top:1px solid #222;border-right:1px solid #555;border-bottom:1px solid #222;border-left:1px solid #333"></div>
<div style="left:606.5px;top:6.50px;width:94.60px;height:15px;background:#dcdcdc;border:1px solid #a8a8a8;border-left:none"></div>
<div style="left:606.5px;top:22.53px;width:88.70px;height:15px;background:#dcdcdc;border:1px solid #a8a8a8;border-left:none"></div>
<div style="left:606.5px;top:38.56px;width:82.60px;height:15px;background:#dcdcdc;border:1px solid #a8a8a8;border-left:none"></div>
<div style="left:606.5px;top:54.59px;width:78.10px;height:15px;background:#dcdcdc;border:1px solid #a8a8a8;border-left:none"></div>
<div style="left:606.5px;top:70.62px;width:72.50px;height:15px;background:#dcdcdc;border:1px solid #a8a8a8;border-left:none"></div>
<div style="left:606.5px;top:86.66px;width:68.60px;height:15px;background:#dcdcdc;border:1px solid #a8a8a8;border-left:none"></div>
<div style="left:606.5px;top:102.69px;width:58.30px;height:15px;background:#dcdcdc;border:1px solid #a8a8a8;border-left:none"></div>
<div style="left:606.5px;top:118.72px;width:56.90px;height:15px;background:#dcdcdc;border:1px solid #a8a8a8;border-left:none"></div>
<div style="left:606.5px;top:134.75px;width:54.70px;height:15px;background:#dcdcdc;border:1px solid #a8a8a8;border-left:none"></div>
<div style="left:606.5px;top:150.78px;width:51.90px;height:15px;background:#dcdcdc;border:1px solid #a8a8a8;border-left:none"></div>
<div style="left:606.5px;top:166.81px;width:48.50px;height:15px;background:#dcdcdc;border:1px solid #a8a8a8;border-left:none"></div>
<div style="left:606.5px;top:182.84px;width:37.70px;height:15px;background:#dcdcdc;border:1px solid #a8a8a8;border-left:none"></div>
<div style="left:606.5px;top:198.88px;width:27.20px;height:15px;background:#dcdcdc;border:1px solid #a8a8a8;border-left:none"></div>
<div style="left:606.5px;top:214.91px;width:25.80px;height:15px;background:#dcdcdc;border:1px solid #a8a8a8;border-left:none"></div>
<div style="left:606.5px;top:230.94px;width:23.30px;height:15px;background:#dcdcdc;border:1px solid #a8a8a8;border-left:none"></div>
<div style="left:606.5px;top:246.97px;width:21.50px;height:15px;background:#dcdcdc;border:1px solid #a8a8a8;border-left:none"></div>
<div style="left:606.5px;top:263.00px;width:20.60px;height:15px;background:#dcdcdc;border:1px solid #a8a8a8;border-left:none"></div>
<div style="left:606.5px;top:279.03px;width:17.50px;height:15px;background:#dcdcdc;border:1px solid #a8a8a8;border-left:none"></div>
<div style="left:606.5px;top:295.06px;width:11.60px;height:15px;background:#dcdcdc;border:1px solid #a8a8a8;border-left:none"></div>
<div style="left:606.5px;top:311.09px;width:11.10px;height:15px;background:#dcdcdc;border:1px solid #a8a8a8;border-left:none"></div>
<div style="left:606.5px;top:327.12px;width:11.10px;height:15px;background:#dcdcdc;border:1px solid #a8a8a8;border-left:none"></div>
<div style="left:606.5px;top:343.16px;width:8.00px;height:15px;background:#dcdcdc;border:1px solid #a8a8a8;border-left:none"></div>
<div style="left:606.5px;top:359.19px;width:8.40px;height:15px;background:#dcdcdc;border:1px solid #a8a8a8;border-left:none"></div>
<div style="left:606.5px;top:375.22px;width:8.20px;height:15px;background:#dcdcdc;border:1px solid #a8a8a8;border-left:none"></div>
<div style="left:606.5px;top:391.25px;width:7.50px;height:15px;background:#dcdcdc;border:1px solid #a8a8a8;border-left:none"></div>
<div style="left:606.5px;top:407.28px;width:7.50px;height:15px;background:#dcdcdc;border:1px solid #a8a8a8;border-left:none"></div>
<div style="left:606.5px;top:423.31px;width:7.50px;height:15px;background:#dcdcdc;border:1px solid #a8a8a8;border-left:none"></div>
<div style="left:606.5px;top:439.34px;width:6.90px;height:15px;background:#dcdcdc;border:1px solid #a8a8a8;border-left:none"></div>
<div style="left:606.5px;top:455.38px;width:6.90px;height:15px;background:#dcdcdc;border:1px solid #a8a8a8;border-left:none"></div>
<div style="left:606.5px;top:471.41px;width:6.90px;height:15px;background:#dcdcdc;border:1px solid #a8a8a8;border-left:none"></div>
<div style="left:606.5px;top:487.44px;width:4.80px;height:15px;background:#dcdcdc;border:1px solid #a8a8a8;border-left:none"></div>
<div style="left:606.5px;top:503.47px;width:3.30px;height:15px;background:#dcdcdc;border:1px solid #a8a8a8;border-left:none"></div>
<div style="left:606.5px;top:519.50px;width:3.30px;height:15px;background:#dcdcdc;border:1px solid #a8a8a8;border-left:none"></div>
<div style="left:606.5px;top:535.53px;width:3.30px;height:15px;background:#dcdcdc;border:1px solid #a8a8a8;border-left:none"></div>
<div style="left:606.5px;top:551.56px;width:3.30px;height:15px;background:#dcdcdc;border:1px solid #a8a8a8;border-left:none"></div>
<div style="left:606.5px;top:567.59px;width:3.00px;height:15px;background:#dcdcdc;border:1px solid #a8a8a8;border-left:none"></div>
<div style="left:606.5px;top:583.62px;width:2.70px;height:15px;background:#dcdcdc;border:1px solid #a8a8a8;border-left:none"></div>
<div style="left:606.5px;top:599.66px;width:2.70px;height:15px;background:#dcdcdc;border:1px solid #a8a8a8;border-left:none"></div>
<div style="left:606.5px;top:615.69px;width:2.70px;height:15px;background:#dcdcdc;border:1px solid #a8a8a8;border-left:none"></div>
<div style="left:606.5px;top:631.72px;width:2.70px;height:15px;background:#dcdcdc;border:1px solid #a8a8a8;border-left:none"></div>
<div style="left:606.5px;top:647.75px;width:2.70px;height:15px;background:#dcdcdc;border:1px solid #a8a8a8;border-left:none"></div>
<div style="left:606.5px;top:663.78px;width:2.70px;height:15px;background:#dcdcdc;border:1px solid #a8a8a8;border-left:none"></div>
<div style="left:606.5px;top:679.81px;width:2.70px;height:15px;background:#dcdcdc;border:1px solid #a8a8a8;border-left:none"></div>
<div style="left:606.5px;top:695.84px;width:2.50px;height:15px;background:#dcdcdc;border:1px solid #a8a8a8;border-left:none"></div>
<div style="left:606.5px;top:711.88px;width:2.50px;height:15px;background:#dcdcdc;border:1px solid #a8a8a8;border-left:none"></div>
<div style="left:606.5px;top:727.91px;width:2.50px;height:15px;background:#dcdcdc;border:1px solid #a8a8a8;border-left:none"></div>
<div style="left:606.5px;top:792.03px;width:27.90px;height:15px;background:#dcdcdc;border:1px solid #a8a8a8;border-left:none"></div>
<div style="left:606.5px;top:808.06px;width:6.90px;height:15px;background:#dcdcdc;border:1px solid #a8a8a8;border-left:none"></div>
<div style="left:606.5px;top:824.09px;width:5.20px;height:15px;background:#dcdcdc;border:1px solid #a8a8a8;border-left:none"></div>
<div style="left:606.5px;top:856.16px;width:12.70px;height:15px;background:#dcdcdc;border:1px solid #a8a8a8;border-left:none"></div>
<div style="left:606.5px;top:872.19px;width:2.90px;height:15px;background:#dcdcdc;border:1px solid #a8a8a8;border-left:none"></div>
<div style="left:606.5px;top:888.22px;width:2.90px;height:15px;background:#dcdcdc;border:1px solid #a8a8a8;border-left:none"></div>
<div style="left:606.5px;top:904.25px;width:2.40px;height:15px;background:#dcdcdc;border:1px solid #a8a8a8;border-left:none"></div>
<div style="left:606.5px;top:920.28px;width:57.20px;height:15px;background:#dcdcdc;border:1px solid #a8a8a8;border-left:none"></div>
<div style="left:606.5px;top:936.31px;width:3.00px;height:15px;background:#dcdcdc;border:1px solid #a8a8a8;border-left:none"></div>
<div style="left:606.5px;top:952.34px;width:2.20px;height:15px;background:#dcdcdc;border:1px solid #a8a8a8;border-left:none"></div>
<div style="left:606.5px;top:968.38px;width:5.70px;height:15px;background:#dcdcdc;border:1px solid #a8a8a8;border-left:none"></div>
<div style="left:606.5px;top:984.41px;width:3.80px;height:15px;background:#dcdcdc;border:1px solid #a8a8a8;border-left:none"></div>
<div style="left:606.5px;top:1016.47px;width:6.90px;height:15px;background:#dcdcdc;border:1px solid #a8a8a8;border-left:none"></div>
<div style="left:605.50px;top:1032px;width:1px;height:4px;background:#333"></div>
<span style="left:599.50px;top:1040px;width:16px;height:0;"><span style="left:0;top:0;transform-origin:0 0;transform:translate(1px,0) rotate(-90deg) translate(-100%,0);font-size:13.5px;line-height:14px;white-space:nowrap;color:#111">0</span></span>
<div style="left:634.17px;top:1032px;width:1px;height:4px;background:#333"></div>
<span style="left:628.17px;top:1040px;width:16px;height:0;"><span style="left:0;top:0;transform-origin:0 0;transform:translate(1px,0) rotate(-90deg) translate(-100%,0);font-size:13.5px;line-height:14px;white-space:nowrap;color:#111">50</span></span>
<div style="left:662.85px;top:1032px;width:1px;height:4px;background:#333"></div>
<span style="left:656.85px;top:1040px;width:16px;height:0;"><span style="left:0;top:0;transform-origin:0 0;transform:translate(1px,0) rotate(-90deg) translate(-100%,0);font-size:13.5px;line-height:14px;white-space:nowrap;color:#111">100</span></span>
<div style="left:691.52px;top:1032px;width:1px;height:4px;background:#333"></div>
<span style="left:685.52px;top:1040px;width:16px;height:0;"><span style="left:0;top:0;transform-origin:0 0;transform:translate(1px,0) rotate(-90deg) translate(-100%,0);font-size:13.5px;line-height:14px;white-space:nowrap;color:#111">150</span></span>
<div style="left:720.20px;top:1032px;width:1px;height:4px;background:#333"></div>
<span style="left:714.20px;top:1040px;width:16px;height:0;"><span style="left:0;top:0;transform-origin:0 0;transform:translate(1px,0) rotate(-90deg) translate(-100%,0);font-size:13.5px;line-height:14px;white-space:nowrap;color:#111">200</span></span>
<span style="left:572px;top:1064.7px;font-size:14.8px;font-weight:bold;white-space:nowrap;line-height:17px">Number of case reports</span>
<div style="left:712px;top:209.00px;width:29px;height:14.7px;background:rgb(250,165,35)"></div>
<span class="lg" style="left:747px;top:206.50px">Nervous system drugs (n = 1877)</span>
<div style="left:712px;top:230.10px;width:29px;height:14.7px;background:rgb(0,0,136)"></div>
<span class="lg" style="left:747px;top:229.80px">Alimentary tract and metabolism drugs (n = 72 )</span>
<div style="left:712px;top:253.70px;width:29px;height:14.7px;background:rgb(255,99,96)"></div>
<span class="lg" style="left:747px;top:253.10px">Musculo-skeletal system drugs (n = 35 )</span>
<div style="left:712px;top:278.50px;width:29px;height:14.7px;background:rgb(122,0,181)"></div>
<span class="lg" style="left:747px;top:276.40px">Antiinfectives for systemic use drugs (n = 107 )</span>
<div style="left:712px;top:300.30px;width:29px;height:14.7px;background:rgb(208,40,150)"></div>
<span class="lg" style="left:747px;top:299.70px">Dermatologicals drugs (n = 16 )</span>
<div style="left:712px;top:324.80px;width:29px;height:14.7px;background:rgb(0,196,180)"></div>
<span class="lg" style="left:747px;top:323.00px">Respiratory system&nbsp; drugs (n = 3 )</span>
<div style="left:712px;top:347.60px;width:29px;height:14.7px;background:rgb(236,250,0)"></div>
<span class="lg" style="left:747px;top:346.30px">Various&nbsp; drugs (n = 12 )</span>
<span style="left:712.5px;top:383.2px;font-size:16.4px;font-weight:bold;line-height:18px">Value</span>
<div style="left:712.8px;top:404.3px;width:16px;height:146.5px;background:linear-gradient(to bottom, rgb(247,38,28), rgb(252,95,75) 33%, rgb(252,150,135) 67%, rgb(252,182,177) 96%, rgb(255,250,250))"></div>
<div style="left:713px;top:406.9px;width:3px;height:1px;background:rgba(255,255,255,0.8)"></div>
<div style="left:726px;top:406.9px;width:3px;height:1px;background:rgba(255,255,255,0.8)"></div>
<span style="left:732.3px;top:400.1px;font-size:15px;line-height:16px">300</span>
<div style="left:713px;top:456.0px;width:3px;height:1px;background:rgba(255,255,255,0.8)"></div>
<div style="left:726px;top:456.0px;width:3px;height:1px;background:rgba(255,255,255,0.8)"></div>
<span style="left:732.3px;top:449.2px;font-size:15px;line-height:16px">200</span>
<div style="left:713px;top:505.1px;width:3px;height:1px;background:rgba(255,255,255,0.8)"></div>
<div style="left:726px;top:505.1px;width:3px;height:1px;background:rgba(255,255,255,0.8)"></div>
<span style="left:732.3px;top:498.3px;font-size:15px;line-height:16px">100</span>
<span style="left:732.3px;top:547.4px;font-size:15px;line-height:16px">0</span>
<span style="left:713px;top:570px;font-size:14.8px;font-weight:bold;line-height:17px;white-space:nowrap">log10(adjusted P)</span>
<div style="left:713.4px;top:591.7px;width:14.5px;height:13.6px;background:rgb(216,239,247)"></div>
<span style="left:732.5px;top:591.2px;font-size:13px;line-height:16px">(0,1]</span>
<div style="left:713.4px;top:606.9px;width:14.5px;height:13.6px;background:rgb(188,238,230)"></div>
<span style="left:732.5px;top:606.4px;font-size:13px;line-height:16px">(1,2]</span>
<div style="left:713.4px;top:622.1px;width:14.5px;height:13.6px;background:rgb(140,222,172)"></div>
<span style="left:732.5px;top:621.6px;font-size:13px;line-height:16px">(2,3]</span>
<div style="left:713.4px;top:637.9px;width:14.5px;height:13.6px;background:rgb(54,205,196)"></div>
<span style="left:732.5px;top:637.4px;font-size:13px;line-height:16px">>3</span>
<span style="left:259.8px;top:1035.7px;width:0;height:0"><span style="left:0;top:0;transform-origin:100% 0;transform:translate(-100%,0) rotate(-45deg);font-size:17.5px;line-height:17px;white-space:nowrap">ROR</span></span>
<span style="left:340.8px;top:1035.7px;width:0;height:0"><span style="left:0;top:0;transform-origin:100% 0;transform:translate(-100%,0) rotate(-45deg);font-size:17.5px;line-height:17px;white-space:nowrap">PRR</span></span>
<span style="left:421.8px;top:1035.7px;width:0;height:0"><span style="left:0;top:0;transform-origin:100% 0;transform:translate(-100%,0) rotate(-45deg);font-size:17.5px;line-height:17px;white-space:nowrap">EBGM</span></span>
<span style="left:502.8px;top:1035.7px;width:0;height:0"><span style="left:0;top:0;transform-origin:100% 0;transform:translate(-100%,0) rotate(-45deg);font-size:17.5px;line-height:17px;white-space:nowrap">IC</span></span>
<span style="left:568px;top:1031px;width:0;height:0"><span style="left:0;top:0;transform-origin:100% 0;transform:translate(-100%,0) rotate(-35deg);font-size:15px;font-weight:bold;line-height:16px;white-space:nowrap">log10(adjusted P)</span></span>
</body></html>
